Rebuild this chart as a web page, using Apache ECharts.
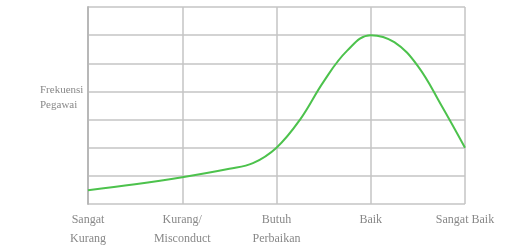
<!DOCTYPE html>
<html><head><meta charset="utf-8">
<script src="https://cdn.jsdelivr.net/npm/echarts@6/dist/echarts.min.js"></script>
<style>html,body{margin:0;padding:0;background:#fff}#c{width:511px;height:248px}</style>
</head><body><div id="c"></div>
<script>
const categories = ["Sangat\nKurang", "Kurang/\nMisconduct", "Butuh\nPerbaikan", "Baik", "Sangat Baik"];
const xPositions = [0, 0.5, 1, 1.5, 1.75, 2, 2.25, 2.5, 2.75, 3, 3.25, 3.5, 3.75, 4];
const frekuensi = [0.49, 0.7, 0.95, 1.25, 1.45, 2.0, 3.0, 4.35, 5.45, 6.0, 5.75, 4.9, 3.5, 2.0];
const yLabel = "Frekuensi\nPegawai";

const chart = echarts.init(document.getElementById('c'), null, {renderer: 'canvas'});
chart.setOption({
  animation: false,
  backgroundColor: '#fff',
  grid: {left: 88, right: 46, top: 7, bottom: 42},
  xAxis: {
    type: 'value', min: 0, max: 4, interval: 1,
    axisLine: {show: false}, axisTick: {show: false},
    splitLine: {show: true, lineStyle: {color: '#c4c4c4', width: 1.5}},
    axisLabel: {
      formatter: v => categories[Math.round(v)] || '',
      color: '#888', fontSize: 12, fontFamily: 'Liberation Serif',
      lineHeight: 19, margin: 6, showMinLabel: true, showMaxLabel: true
    }
  },
  yAxis: {
    type: 'value', min: 0, max: 7, interval: 1,
    axisLine: {show: true, lineStyle: {color: '#b8b8b8', width: 2}},
    axisTick: {show: false}, axisLabel: {show: false},
    splitLine: {show: true, lineStyle: {color: '#c4c4c4', width: 1.5}}
  },
  graphic: [{
    type: 'text', left: 40, top: 83,
    style: {text: yLabel, fill: '#888', font: '11px "Liberation Serif"', lineHeight: 15}
  }],
  series: [{
    type: 'line', smooth: 0.4, showSymbol: false,
    data: xPositions.map((x, i) => [x, frekuensi[i]]),
    lineStyle: {color: '#4cc24c', width: 2}
  }]
});
</script></body></html>
